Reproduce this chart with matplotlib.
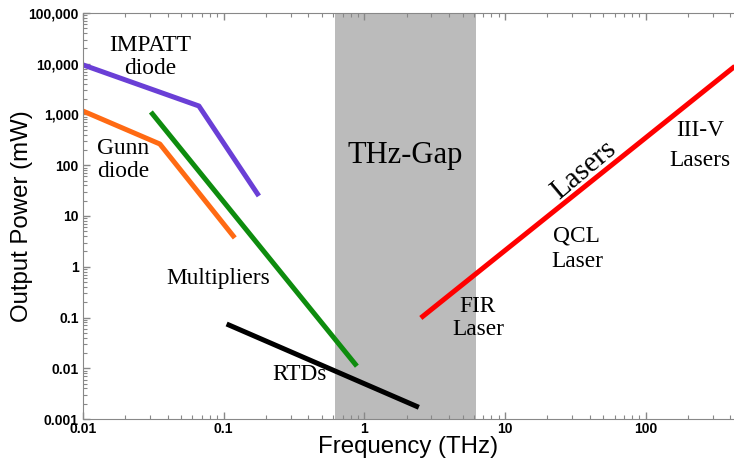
import numpy as np
import matplotlib.pyplot as plt
from matplotlib.ticker import FixedLocator, FixedFormatter, LogLocator, NullFormatter

# source curves: frequency (THz) vs output power (mW)
impatt_f = [0.01, 0.0667, 0.178]
impatt_p = [9500, 1470, 24.8]
gunn_f = [0.01, 0.0352, 0.120]
gunn_p = [1170, 262, 3.7]
mult_f = [0.0304, 0.885]
mult_p = [1120, 0.011]
rtd_f = [0.105, 2.44]
rtd_p = [0.0745, 0.0017]
laser_f = [2.52, 430]
laser_p = [0.098, 8900]

gap = [0.62, 6.2]

yticks = [0.001, 0.01, 0.1, 1, 10, 100, 1000, 10000, 100000]
ylabels = ['0.001', '0.01', '0.1', '1', '10', '100', '1,000', '10,000', '100,000']
xticks = [0.01, 0.1, 1, 10, 100]
xlabels = ['0.01', '0.1', '1', '10', '100']

fig = plt.figure(figsize=(7.34, 4.63), dpi=100)
ax = fig.add_axes([0.113, 0.095, 0.887, 0.877])
ax.set_xscale('log')
ax.set_yscale('log')
ax.set_xlim(0.01, 424)
ax.set_ylim(0.001, 100000)

ax.axvspan(gap[0], gap[1], color='#bbbbbb', zorder=0, lw=0)

lw = 3.6
ax.plot(impatt_f, impatt_p, color='#6a3fd6', lw=lw, solid_capstyle='butt')
ax.plot(gunn_f, gunn_p, color='#ff6a13', lw=lw, solid_capstyle='butt')
ax.plot(mult_f, mult_p, color='#0e8c0e', lw=lw, solid_capstyle='butt')
ax.plot(rtd_f, rtd_p, color='black', lw=lw, solid_capstyle='butt')
ax.plot(laser_f, laser_p, color='#ff0000', lw=lw, solid_capstyle='butt')

serif = 'Liberation Serif'
def lab(x, y, s, size=16.8, ls=1.15, **kw):
    ax.text(x, y, s, family=serif, fontsize=size, ha='center', va='center',
            linespacing=ls, **kw)

lab(0.0299, 13600, 'IMPATT\ndiode')
lab(0.0192, 127, 'Gunn\ndiode')
lab(0.0911, 0.574, 'Multipliers')
lab(0.348, 0.0077, 'RTDs')
lab(1.94, 159, 'THz-Gap', size=22)
lab(6.42, 0.098, 'FIR\nLaser')
lab(32.4, 2.25, 'QCL\nLaser', ls=1.25)
lab(243, 245, 'III-V\nLasers', ls=1.55)
lab(36.5, 78, 'Lasers', size=21, rotation=40)

ax.yaxis.set_major_locator(FixedLocator(yticks))
ax.yaxis.set_major_formatter(FixedFormatter(ylabels))
ax.xaxis.set_major_locator(FixedLocator(xticks))
ax.xaxis.set_major_formatter(FixedFormatter(xlabels))
for a in (ax.xaxis, ax.yaxis):
    a.set_minor_locator(LogLocator(base=10, subs=np.arange(2, 10)))
    a.set_minor_formatter(NullFormatter())

ax.tick_params(which='both', direction='in', color='#888888', top=True,
               labelsize=10)
ax.tick_params(which='major', length=5, width=1)
ax.tick_params(which='minor', length=3, width=0.8)
ax.tick_params(axis='x', pad=2)
ax.tick_params(axis='y', pad=3)
for t in ax.get_xticklabels() + ax.get_yticklabels():
    t.set_fontweight('bold')
    t.set_family('Liberation Sans')

for s in ('left', 'bottom', 'top'):
    ax.spines[s].set_color('#888888')
ax.spines['right'].set_visible(False)

ax.set_xlabel('Frequency (THz)', family='Liberation Sans', fontsize=17.3, labelpad=0)
ax.set_ylabel('Output Power (mW)', family='Liberation Sans', fontsize=17.3)
ax.yaxis.set_label_coords(-0.077, 0.5)

fig.savefig('out.png', dpi=100)
